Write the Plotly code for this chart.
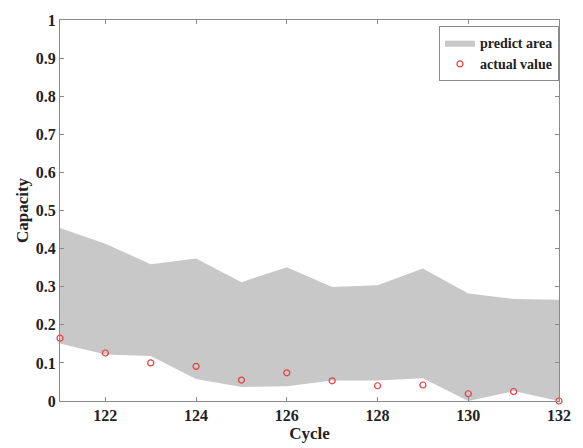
import plotly.graph_objects as go

cycles = [121, 122, 123, 124, 125, 126, 127, 128, 129, 130, 131, 132]
upper_bound = [0.454, 0.413, 0.359, 0.374, 0.312, 0.351, 0.299, 0.304, 0.348, 0.282, 0.268, 0.266]
lower_bound = [0.151, 0.122, 0.118, 0.058, 0.037, 0.039, 0.054, 0.054, 0.060, 0.000, 0.026, 0.000]
actual_value = [0.165, 0.126, 0.100, 0.091, 0.055, 0.074, 0.053, 0.040, 0.042, 0.019, 0.025, 0.000]

x_ticks = [122, 124, 126, 128, 130, 132]
x_tick_text = ["122", "124", "126", "128", "130", "132"]
y_ticks = [0, 0.1, 0.2, 0.3, 0.4, 0.5, 0.6, 0.7, 0.8, 0.9, 1]
y_tick_text = ["0", "0.1", "0.2", "0.3", "0.4", "0.5", "0.6", "0.7", "0.8", "0.9", "1"]

area_color = "rgb(200,200,200)"
font_family = "Liberation Serif"
text_color = "#222"


def bold(labels):
    return ["<b>%s</b>" % s for s in labels]


fig = go.Figure()

fig.add_trace(go.Scatter(
    x=cycles, y=lower_bound, mode="lines",
    line=dict(width=0, color=area_color),
    showlegend=False, hoverinfo="skip",
))
fig.add_trace(go.Scatter(
    x=cycles, y=upper_bound, mode="lines",
    line=dict(width=0, color=area_color),
    fill="tonexty", fillcolor=area_color,
    name="<b>predict area</b>",
))
fig.add_trace(go.Scatter(
    x=cycles, y=actual_value, mode="markers",
    marker=dict(symbol="circle-open", size=6, color="rgb(230,60,60)", line=dict(width=1.2)),
    name="<b>actual value</b>", cliponaxis=False,
))

axis_common = dict(
    showgrid=False, zeroline=False,
    showline=True, linecolor="#8a8a8a", linewidth=1,
    mirror="ticks", ticks="inside", ticklen=4, tickcolor="#8a8a8a",
    tickfont=dict(family=font_family, size=16, color=text_color),
)

fig.update_xaxes(
    range=[121, 132], tickvals=x_ticks, ticktext=bold(x_tick_text),
    title=dict(text="<b>Cycle</b>", font=dict(family=font_family, size=17, color=text_color), standoff=0),
    **axis_common,
)
fig.update_yaxes(
    range=[0, 1], tickvals=y_ticks, ticktext=bold(y_tick_text),
    title=dict(text="<b>Capacity</b>", font=dict(family=font_family, size=17, color=text_color), standoff=2),
    **axis_common,
)

fig.update_layout(
    width=583, height=448,
    margin=dict(l=60, r=20, t=20, b=43),
    plot_bgcolor="white", paper_bgcolor="white",
    legend=dict(
        x=1.0, y=0.984, xanchor="right", yanchor="top",
        traceorder="normal",
        bgcolor="white", bordercolor="#8a8a8a", borderwidth=1,
        font=dict(family=font_family, size=14, color=text_color),
        tracegroupgap=0, itemwidth=30,
    ),
)

fig.write_html("out.html")
